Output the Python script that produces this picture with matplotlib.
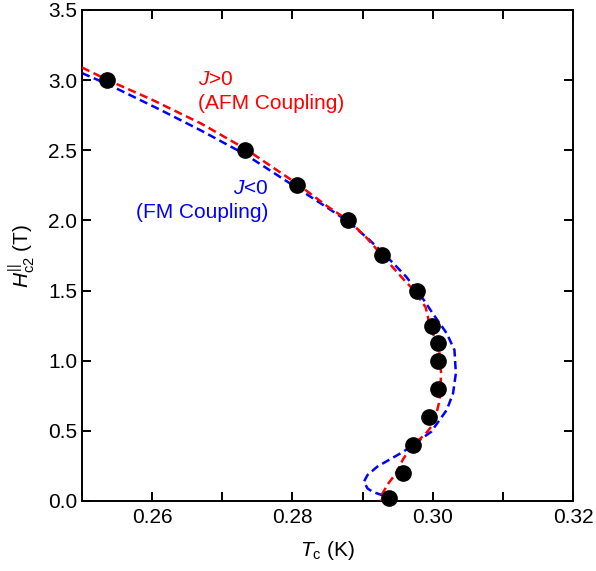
import matplotlib
matplotlib.use('Agg')
import matplotlib.pyplot as plt
from matplotlib.ticker import MultipleLocator

plt.rcParams['font.family'] = ['Liberation Sans', 'DejaVu Sans']
plt.rcParams['mathtext.fontset'] = 'custom'
plt.rcParams['mathtext.rm'] = 'Liberation Sans'
plt.rcParams['mathtext.it'] = 'Liberation Sans:italic'
plt.rcParams['font.size'] = 15

# measured points
tc_data = [0.2536, 0.2733, 0.2807, 0.2879, 0.2927, 0.2977, 0.2999, 0.3008,
           0.3008, 0.3008, 0.2994, 0.2972, 0.2958, 0.2938]
h_data = [3.0, 2.5, 2.25, 2.0, 1.75, 1.5, 1.25, 1.125, 1.0, 0.8, 0.6, 0.4, 0.2, 0.02]

# J>0 (AFM coupling) calculation
tc_afm = [0.2500, 0.2537, 0.2600, 0.2670, 0.2733, 0.2807, 0.2850, 0.2880, 0.2905,
          0.2928, 0.2962, 0.2974, 0.2990, 0.2996, 0.3009, 0.3012, 0.3010, 0.3003,
          0.2998, 0.2990, 0.2970, 0.2958, 0.2948, 0.2936, 0.2928, 0.2926]
h_afm = [3.09, 3.00, 2.86, 2.69, 2.51, 2.26, 2.10, 2.00, 1.88,
         1.75, 1.56, 1.50, 1.38, 1.25, 1.08, 0.91, 0.72, 0.58,
         0.53, 0.48, 0.39, 0.30, 0.20, 0.12, 0.05, 0.00]

# J<0 (FM coupling) calculation
tc_fm = [0.2500, 0.2537, 0.2611, 0.2670, 0.2733, 0.2807, 0.2850, 0.2880, 0.2910,
         0.2933, 0.2962, 0.2985, 0.3001, 0.3020, 0.3031, 0.3033, 0.3029, 0.3020,
         0.3003, 0.2998, 0.2958, 0.2921, 0.2907, 0.2902, 0.2907, 0.2914, 0.2931, 0.2941]
h_fm = [3.05, 2.97, 2.79, 2.64, 2.47, 2.23, 2.09, 1.99, 1.86,
        1.75, 1.60, 1.45, 1.33, 1.195, 1.076, 0.91, 0.767, 0.649,
        0.53, 0.494, 0.351, 0.245, 0.185, 0.138, 0.09, 0.066, 0.036, 0.015]

fig = plt.figure(figsize=(5.96, 5.71), dpi=100)
ax = fig.add_axes([0.1376, 0.1226, 0.8238, 0.8599])

ax.plot(tc_fm, h_fm, color='#0000ff', lw=1.8, linestyle=(0, (3.3, 1.8)), zorder=2)
ax.plot(tc_afm, h_afm, color='#ff0000', lw=1.8, linestyle=(0, (3.3, 1.8)), zorder=3)
ax.plot(tc_data, h_data, 'o', color='black', ms=11, zorder=4, clip_on=False)

ax.text(0.26657, 3.008, r'$J$>0', color='#ff0000', ha='left', va='center')
ax.text(0.26657, 2.837, '(AFM Coupling)', color='#ff0000', ha='left', va='center')
ax.text(0.27657, 2.231, r'$J$<0', color='#0000ff', ha='right', va='center')
ax.text(0.27657, 2.053, '(FM Coupling)', color='#0000ff', ha='right', va='center')

ax.set_xlim(0.25, 0.32)
ax.set_ylim(0, 3.5)
ax.xaxis.set_major_locator(MultipleLocator(0.02))
ax.xaxis.set_minor_locator(MultipleLocator(0.01))
ax.yaxis.set_major_locator(MultipleLocator(0.5))
ax.set_xticks([0.26, 0.28, 0.30, 0.32])
ax.set_xticklabels(['0.26', '0.28', '0.30', '0.32'])
ax.set_yticklabels(['%.1f' % v for v in ax.get_yticks()])

ax.tick_params(which='both', direction='in', top=True, right=True, width=1.4)
ax.tick_params(which='major', length=6.5)
ax.tick_params(which='minor', length=6.5)
ax.tick_params(axis='x', pad=5)
ax.tick_params(axis='y', pad=3.5)
for sp in ax.spines.values():
    sp.set_linewidth(1.4)

ax.set_xlabel(r'$T_{\mathrm{c}}$ (K)', labelpad=9)
ax.set_ylabel(r'$H_{\mathrm{c2}}^{||}$ (T)', labelpad=8)

fig.savefig('out.png', dpi=100)
